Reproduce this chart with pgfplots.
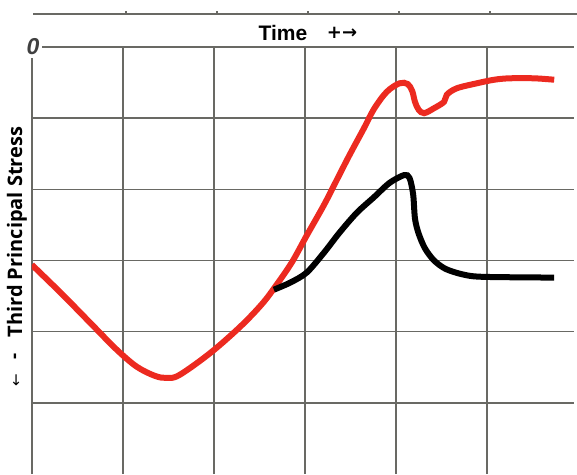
\documentclass[border=0pt]{standalone}
\usepackage{pgfplots}
\pgfplotsset{compat=1.18}
\usepackage{fontspec}
\setmainfont{Liberation Sans}
\newfontfamily\dejavu{DejaVu Sans}
\newfontfamily\opensans{Open Sans}
\definecolor{redline}{RGB}{236,42,32}
\definecolor{gridgray}{RGB}{105,105,100}
\begin{document}
\begin{tikzpicture}[x=1pt,y=1pt]
\useasboundingbox (0,0) rectangle (577,474);
\begin{axis}[
  at={(35,0)}, anchor=south west,
  scale only axis, width=542pt, height=427pt,
  xmin=0, xmax=5.956, ymin=-6, ymax=0,
  axis line style={draw=none},
  xtick={0,...,5}, xticklabels={},
  ytick={-5,...,0}, yticklabels={},
  major tick length=0pt,
  grid=major, grid style={gridgray, line width=1.5pt},
  clip=true,
]
\addplot[redline, line width=6pt, smooth, tension=0.55] coordinates {
(0,-3.06) (0.33,-3.47) (0.66,-3.90) (0.93,-4.25) (1.15,-4.49) (1.35,-4.62)
(1.48,-4.65) (1.62,-4.61) (1.96,-4.30) (2.29,-3.93) (2.53,-3.61) (2.69,-3.34)
(2.86,-3.02) (3.02,-2.65) (3.21,-2.22) (3.35,-1.87) (3.49,-1.52) (3.65,-1.14)
(3.76,-0.87) (3.90,-0.63) (4.04,-0.51) (4.13,-0.52) (4.18,-0.62) (4.21,-0.77)
(4.25,-0.88) (4.31,-0.93) (4.42,-0.86) (4.53,-0.77) (4.56,-0.67) (4.67,-0.58)
(4.89,-0.51) (5.08,-0.46) (5.25,-0.44) (5.52,-0.44) (5.74,-0.46)
};
\addplot[black, line width=6pt, smooth, tension=0.5] coordinates {
(2.66,-3.41) (2.84,-3.31) (3.02,-3.17) (3.21,-2.89) (3.38,-2.61) (3.57,-2.33)
(3.76,-2.11) (3.93,-1.91) (4.09,-1.80) (4.15,-1.84) (4.19,-2.07) (4.21,-2.41)
(4.25,-2.62) (4.32,-2.83) (4.42,-3.00) (4.55,-3.12) (4.75,-3.20) (4.97,-3.23)
(5.74,-3.24)
};
\end{axis}
\draw[gridgray, line width=1.5pt] (33,460) -- (577,460);
\foreach \x in {126,217,308,399,490} \draw[gridgray, line width=1.2pt] (\x,460) -- (\x,463);
\node[fill=white, inner sep=2.5pt, text=black!75] at (33,427) {\bfseries\itshape\fontsize{23}{23}\selectfont 0};
\node at (283,441) {\bfseries\fontsize{21}{21}\selectfont Time};
\node at (342,441) {\dejavu\bfseries\fontsize{18}{18}\selectfont +→};
\node[rotate=90] at (17,242) {\opensans\bfseries\fontsize{20}{20}\selectfont Third Principal Stress};
\node[rotate=90] at (17,118) {\opensans\bfseries\fontsize{19}{19}\selectfont -};
\node[rotate=90] at (17,94) {\dejavu\fontsize{15}{15}\selectfont ←};
\end{tikzpicture}
\end{document}
